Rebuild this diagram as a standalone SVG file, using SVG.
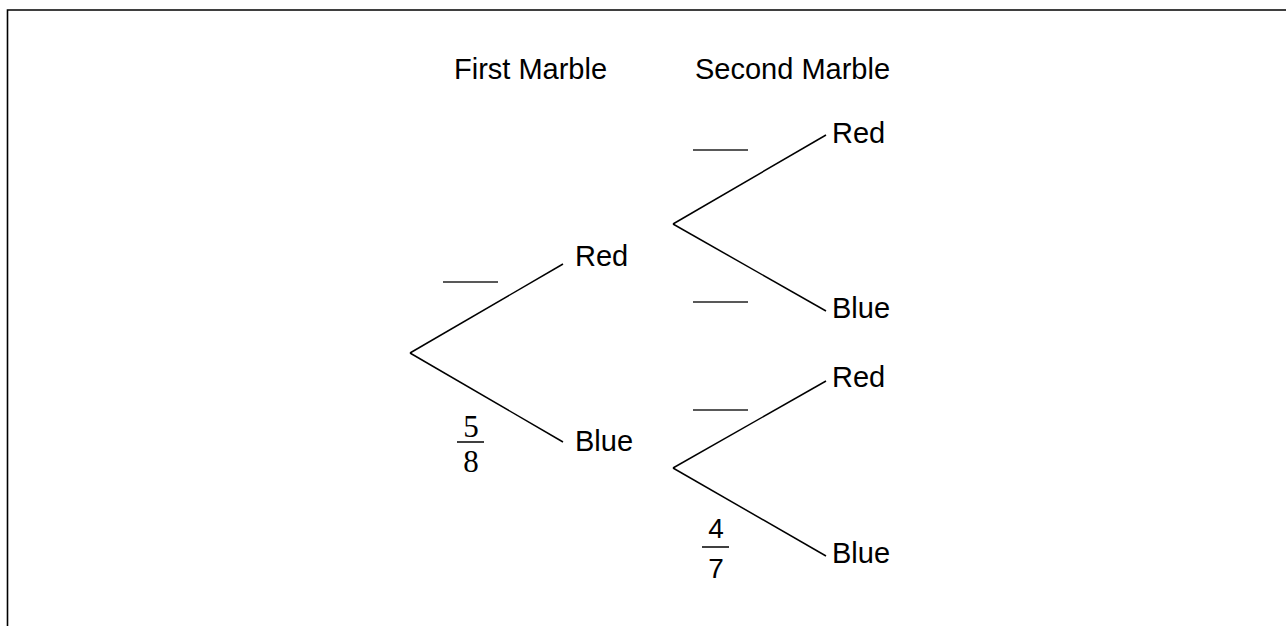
<svg xmlns="http://www.w3.org/2000/svg" width="1286" height="626" viewBox="0 0 1286 626">
<style>
.lbl{font-family:"Liberation Sans",Arial,sans-serif;font-size:29px;fill:#000}
.frs{font-family:"Liberation Serif","Times New Roman",serif;font-size:31px;fill:#000}
.frn{font-family:"Liberation Sans",Arial,sans-serif;font-size:28px;fill:#000}
.br{stroke:#000;stroke-width:1.5;fill:none}
.blank{stroke:#222;stroke-width:1.5}
</style>
<rect width="1286" height="626" fill="#fff"/>
<path d="M7.5 626 V10 H1286" stroke="#000" stroke-width="1.6" fill="none"/>
<g id="headers">
<text class="lbl" x="454" y="79">First Marble</text>
<text class="lbl" x="695" y="79">Second Marble</text>
</g>
<g id="connectors">
<line class="br" x1="410" y1="353" x2="563" y2="264"/>
<line class="br" x1="410" y1="353" x2="563" y2="442"/>
<line class="br" x1="673" y1="224" x2="826" y2="135"/>
<line class="br" x1="673" y1="224" x2="826" y2="311"/>
<line class="br" x1="673" y1="468" x2="826" y2="381"/>
<line class="br" x1="673" y1="468" x2="826" y2="556"/>
</g>
<g id="node-first-red"><text class="lbl" x="575" y="266">Red</text></g>
<g id="node-first-blue"><text class="lbl" x="575" y="451">Blue</text></g>
<g id="node-second-red-1"><text class="lbl" x="832" y="143">Red</text></g>
<g id="node-second-blue-1"><text class="lbl" x="832" y="318">Blue</text></g>
<g id="node-second-red-2"><text class="lbl" x="832" y="387">Red</text></g>
<g id="node-second-blue-2"><text class="lbl" x="832" y="563">Blue</text></g>
<g id="blanks">
<line class="blank" x1="443" y1="282" x2="498" y2="282"/>
<line class="blank" x1="693" y1="150" x2="748" y2="150"/>
<line class="blank" x1="693" y1="302" x2="748" y2="302"/>
<line class="blank" x1="693" y1="410" x2="748" y2="410"/>
</g>
<g id="fraction-5-8">
<text class="frs" x="471" y="437" text-anchor="middle">5</text>
<line x1="457" y1="442" x2="484" y2="442" stroke="#000" stroke-width="1.5"/>
<text class="frs" x="471" y="472" text-anchor="middle">8</text>
</g>
<g id="fraction-4-7">
<text class="frn" x="716" y="538" text-anchor="middle">4</text>
<line x1="702" y1="547" x2="729" y2="547" stroke="#000" stroke-width="1.5"/>
<text class="frn" x="716" y="578" text-anchor="middle">7</text>
</g>
</svg>
